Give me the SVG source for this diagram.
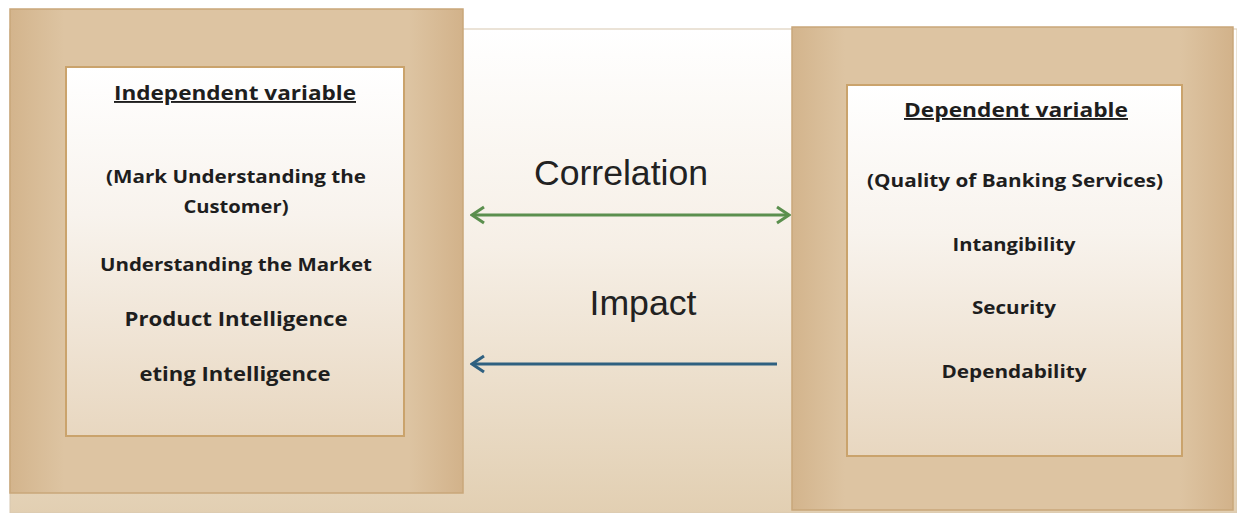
<svg xmlns="http://www.w3.org/2000/svg" width="1237" height="513" viewBox="0 0 1237 513">
<defs>
<linearGradient id="bg" x1="0" y1="0" x2="0" y2="1">
<stop offset="0" stop-color="#ffffff"/>
<stop offset="0.45" stop-color="#f6efe6"/>
<stop offset="1" stop-color="#e2cfb2"/>
</linearGradient>
<linearGradient id="inner" x1="0" y1="0" x2="0" y2="1">
<stop offset="0" stop-color="#ffffff"/>
<stop offset="0.4" stop-color="#f8f3ed"/>
<stop offset="1" stop-color="#e8d7c0"/>
</linearGradient>
<linearGradient id="outer" x1="0" y1="0" x2="1" y2="0">
<stop offset="0" stop-color="#d3b48c"/>
<stop offset="0.12" stop-color="#ddc4a2"/>
<stop offset="0.88" stop-color="#ddc4a2"/>
<stop offset="1" stop-color="#d2b28a"/>
</linearGradient>
<marker id="gh" viewBox="0 0 16 20" refX="14" refY="10" markerWidth="16" markerHeight="20" markerUnits="userSpaceOnUse" orient="auto-start-reverse">
<path d="M2,2 L14,10 L2,18" fill="none" stroke="#5b8f4e" stroke-width="3" stroke-linejoin="miter"/>
</marker>
<marker id="bh" viewBox="0 0 16 20" refX="14" refY="10" markerWidth="16" markerHeight="20" markerUnits="userSpaceOnUse" orient="auto-start-reverse">
<path d="M2,2 L14,10 L2,18" fill="none" stroke="#2f6080" stroke-width="3"/>
</marker>
</defs>
<style>
.outer{fill:url(#outer);stroke:#c9a77a;stroke-width:1.5}
.inner{fill:url(#inner);stroke:#caa36c;stroke-width:2}
.t{font-family:"Open Sans","Noto Sans","Liberation Sans",sans-serif;font-weight:700;fill:#1e1e1e;text-anchor:middle}
.h{text-decoration:underline}
.lbl{font-family:"Liberation Sans",Arial,sans-serif;fill:#222;text-anchor:middle;font-size:35px}
</style>
<rect x="0" y="0" width="1237" height="513" fill="#ffffff"/>
<rect id="background" x="10" y="29" width="1227" height="484" fill="url(#bg)" stroke="#d8c8b0" stroke-width="1"/>
<g id="independent">
<rect class="outer" x="10" y="9" width="453" height="484"/>
<rect class="inner" x="66" y="67" width="338" height="369"/>
<text class="t h" x="235" y="100" font-size="19" textLength="242" lengthAdjust="spacingAndGlyphs">Independent variable</text>
<text class="t" x="236" y="183" font-size="18" textLength="260" lengthAdjust="spacingAndGlyphs">(Mark Understanding the</text>
<text class="t" x="236" y="213" font-size="18" textLength="105" lengthAdjust="spacingAndGlyphs">Customer)</text>
<text class="t" x="236" y="271" font-size="18" textLength="272" lengthAdjust="spacingAndGlyphs">Understanding the Market</text>
<text class="t" x="236" y="326" font-size="20" textLength="223" lengthAdjust="spacingAndGlyphs">Product Intelligence</text>
<text class="t" x="235" y="381" font-size="20" textLength="191" lengthAdjust="spacingAndGlyphs">eting Intelligence</text>
</g>
<g id="dependent">
<rect class="outer" x="792" y="27" width="441" height="483"/>
<rect class="inner" x="847" y="85" width="335" height="371"/>
<text class="t h" x="1016" y="117" font-size="19" textLength="224" lengthAdjust="spacingAndGlyphs">Dependent variable</text>
<text class="t" x="1015" y="187" font-size="17.5" textLength="296" lengthAdjust="spacingAndGlyphs">(Quality of Banking Services)</text>
<text class="t" x="1014" y="251" font-size="17.5" textLength="123" lengthAdjust="spacingAndGlyphs">Intangibility</text>
<text class="t" x="1014" y="314" font-size="17.5" textLength="84" lengthAdjust="spacingAndGlyphs">Security</text>
<text class="t" x="1014" y="378" font-size="17.5" textLength="145" lengthAdjust="spacingAndGlyphs">Dependability</text>
</g>
<g id="connectors">
<line x1="472" y1="215" x2="789" y2="215" stroke="#5b8f4e" stroke-width="3" marker-start="url(#gh)" marker-end="url(#gh)"/>
<line x1="777" y1="364" x2="472" y2="364" stroke="#2f6080" stroke-width="3" marker-end="url(#bh)"/>
<text class="lbl" x="621" y="185" textLength="174" lengthAdjust="spacingAndGlyphs">Correlation</text>
<text class="lbl" x="643" y="315" textLength="107" lengthAdjust="spacingAndGlyphs">Impact</text>
</g>
</svg>
